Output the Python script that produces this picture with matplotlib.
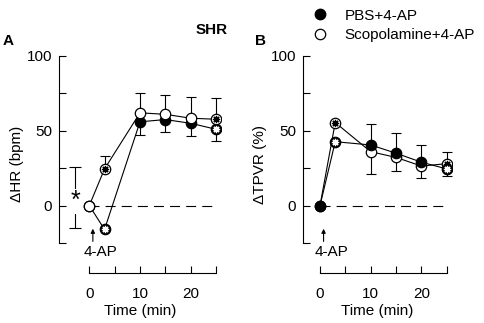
import matplotlib
matplotlib.use("Agg")
import matplotlib.pyplot as plt
from matplotlib.lines import Line2D
import numpy as np

plt.rcParams['font.family'] = ['Liberation Sans', 'DejaVu Sans']
plt.rcParams['font.size'] = 11

# time points (min)
time = [0, 3, 10, 15, 20, 25]
# points that carry a significance asterisk inside the marker
starred = [False, True, False, False, False, True]

# panel A: change in heart rate (bpm)
hr_pbs = [0, -16, 56, 57.5, 55, 51]
hr_pbs_err = [[0, 0, 8.5, 8.5, 8.2, 7.6], [0, 0, 0, 0, 0, 0]]
hr_scop = [0, 24.5, 62, 61, 58.4, 57.7]
hr_scop_err = [[0, 0, 0, 0, 0, 0], [0, 8.5, 13.5, 13, 14, 14]]
hr_sig_span = (-15, 25.6)

# panel B: change in total peripheral vascular resistance (%)
tpvr_pbs = [0, 42.7, 40.5, 35, 29, 24.5]
tpvr_pbs_err = [[0, 0, 0, 0, 0, 5], [0, 0, 14, 13.3, 11.6, 0]]
tpvr_scop = [0, 55.5, 36, 32.2, 26.4, 28]
tpvr_scop_err = [[0, 0, 15, 9.2, 8.2, 0], [0, 0, 0, 0, 0, 7.6]]

labels = ['PBS+4-AP', 'Scopolamine+4-AP']

W, H = 484, 323
fig = plt.figure(figsize=(W / 100, H / 100), dpi=100)

# axes placed in pixel units (left, right, top, bottom; measured from top-left)
def add_ax(l, r, top, bot):
    return fig.add_axes([l / W, 1 - bot / H, (r - l) / W, (bot - top) / H])

axA = add_ax(58.9, 221.1, 55.25, 273.3)
axB = add_ax(303.3, 451.8, 55.25, 273.3)
axA.set_xlim(-6, 26)
axB.set_xlim(-3.3, 26)

ms = 7.5


def draw_series(ax, y, err, filled, z):
    face = 'black' if filled else 'white'
    ax.errorbar(time, y, yerr=np.array(err), fmt='none', ecolor='black',
                elinewidth=0.8, capsize=3.5, capthick=0.8, zorder=z)
    ax.plot(time, y, color='black', lw=0.8, marker='o', ms=ms, mfc=face,
            mec='black', mew=0.9, zorder=z + 0.5)
    sx = [t for t, s in zip(time, starred) if s]
    sy = [v for v, s in zip(y, starred) if s]
    ax.plot(sx, sy, ls='none', marker=(8, 2, 0), ms=5.2, mew=0.9,
            mec='white' if filled else 'black', zorder=z + 0.6)


def style(ax, ylabel, ylabelpad):
    ax.set_ylim(-45.3, 100.5)
    for s in ['top', 'right']:
        ax.spines[s].set_visible(False)
    ax.spines['left'].set_bounds(-25, 100)
    ax.spines['bottom'].set_bounds(0, 25)
    for s in ['left', 'bottom']:
        ax.spines[s].set_linewidth(0.8)
    ax.set_yticks([-25, 0, 25, 50, 75, 100])
    ax.set_yticklabels(['', '0', '', '50', '', '100'])
    ax.set_xticks([0, 5, 10, 15, 20, 25])
    ax.set_xticklabels(['0', '', '10', '', '20', ''])
    ax.tick_params(direction='in', length=5, width=0.8, labelsize=11)
    ax.tick_params(axis='y', pad=5)
    ax.tick_params(axis='x', pad=10)
    ax.set_xlabel('Time (min)', fontsize=11, labelpad=2)
    ax.set_ylabel(ylabel, fontsize=11, labelpad=ylabelpad)
    ax.hlines(0, 0, 25, colors='black', lw=0.8, linestyles=(0, (9, 5.5)), zorder=1)
    ax.annotate('', xy=(0.7, -15.5), xytext=(0.7, -24),
                arrowprops=dict(arrowstyle='-|>', lw=0.8, color='black',
                                mutation_scale=6, shrinkA=0, shrinkB=0),
                annotation_clip=False)
    ax.text(2.2, -31, '4-AP', ha='center', va='center', fontsize=11, clip_on=False)


# panel A
style(axA, '\u0394HR (bpm)', 2)
draw_series(axA, hr_pbs, hr_pbs_err, True, 3)
draw_series(axA, hr_scop, hr_scop_err, False, 4)
mid = (hr_sig_span[0] + hr_sig_span[1]) / 2
axA.errorbar([-2.8], [mid], yerr=[(hr_sig_span[1] - hr_sig_span[0]) / 2],
             fmt='none', ecolor='black', elinewidth=0.8, capsize=4, capthick=0.8,
             clip_on=False)
axA.text(-2.8, 3.0, '*', ha='center', va='center', fontsize=18,
         bbox=dict(facecolor='white', edgecolor='none', pad=0.3))

# panel B
style(axB, '\u0394TPVR (%)', 3)
draw_series(axB, tpvr_scop, tpvr_scop_err, False, 3)
draw_series(axB, tpvr_pbs, tpvr_pbs_err, True, 4)

fig.text(3 / W, 1 - 41 / H, 'A', fontsize=11, fontweight='bold', va='center')
fig.text(255 / W, 1 - 41 / H, 'B', fontsize=11, fontweight='bold', va='center')
fig.text(196 / W, 1 - 30 / H, 'SHR', fontsize=11, fontweight='bold', va='center')

handles = [Line2D([], [], ls='none', marker='o', ms=ms, mfc='black', mec='black'),
           Line2D([], [], ls='none', marker='o', ms=ms, mfc='white', mec='black', mew=0.9)]
fig.legend(handles, labels, loc='upper left', bbox_to_anchor=(305 / W, 1 - 1 / H),
           frameon=False, borderpad=0, handlelength=1.0, handletextpad=1.1,
           labelspacing=0.35, fontsize=11, numpoints=1)

fig.savefig('out.png', dpi=100)
